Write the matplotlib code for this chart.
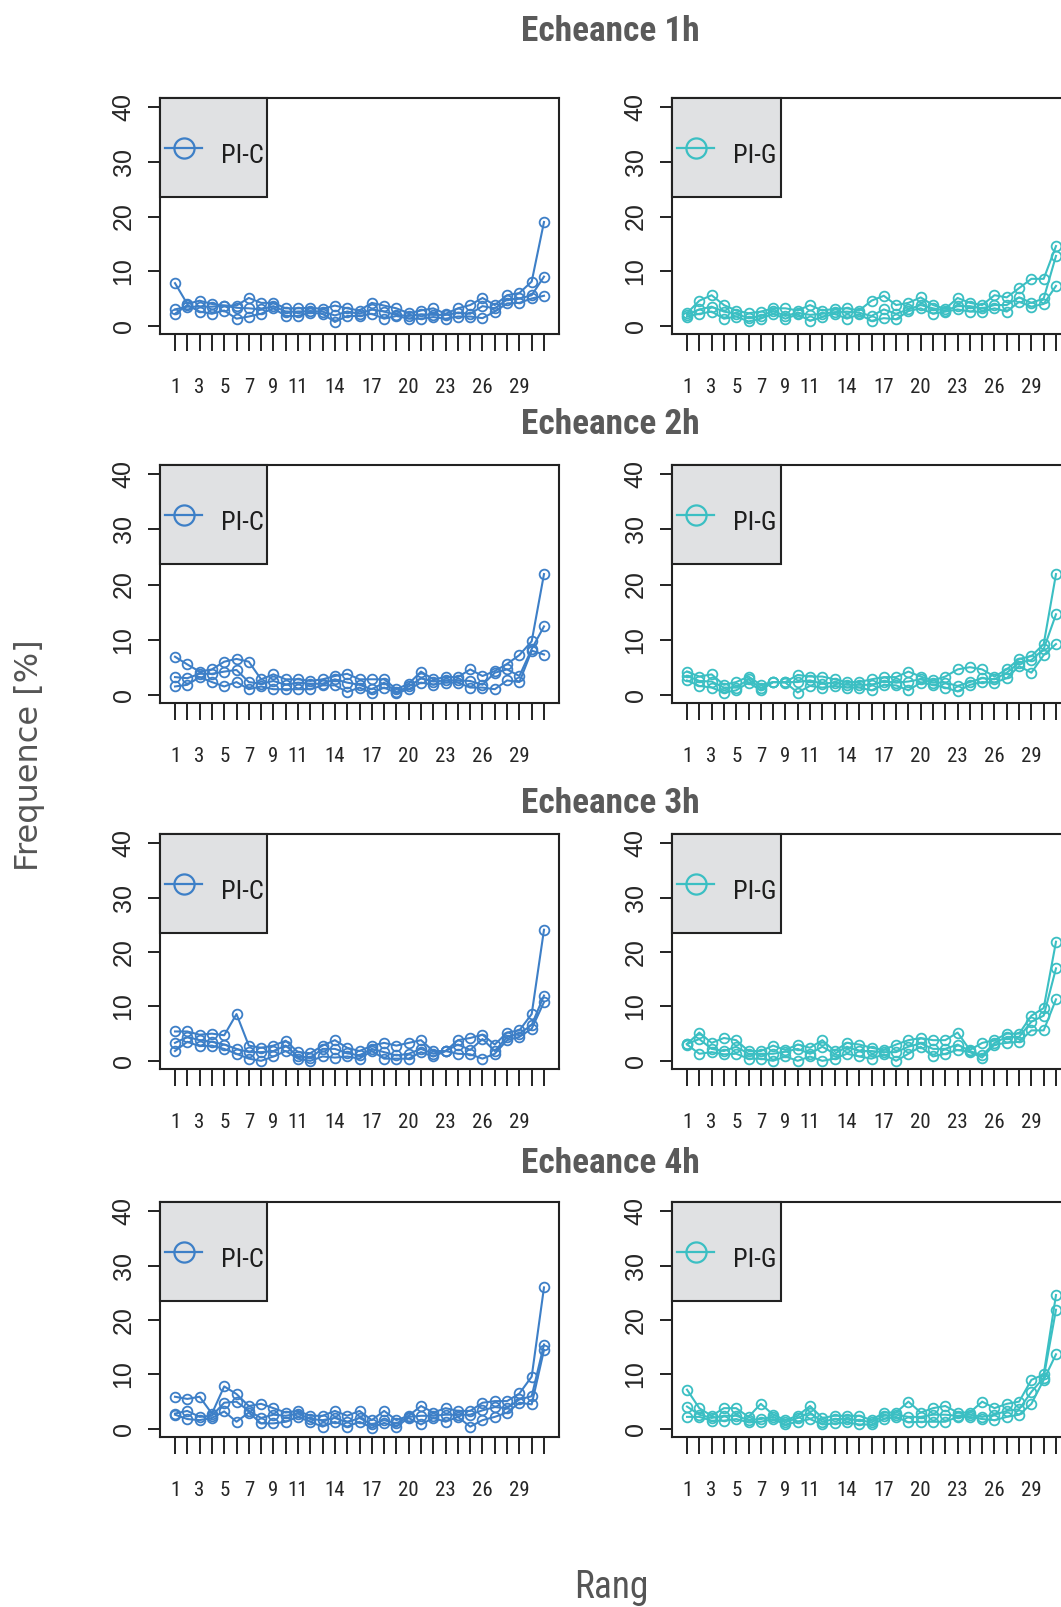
import numpy as np
import matplotlib
matplotlib.use("Agg")
import matplotlib.pyplot as plt
from matplotlib.patches import Rectangle
from matplotlib import font_manager

# ranks on the x axis
ranks = list(range(1, 32))
shown_labels = [1, 3, 5, 7, 9, 11, 14, 17, 20, 23, 26, 29]
y_ticks = [0, 10, 20, 30, 40]
titles = ["Echeance 1h", "Echeance 2h", "Echeance 3h", "Echeance 4h"]
legend_names = ["PI-C", "PI-G"]

# frequencies [%], three curves per panel
pic_1h = [
    [7.8, 4.0, 4.6, 4.0, 3.7, 3.7, 5.1, 4.2, 4.2, 3.2, 3.2, 3.3, 3.1, 3.7, 3.2, 2.8, 4.2, 3.7, 3.2, 2.3, 2.8, 3.2, 2.2, 3.2, 3.8, 5.1, 3.8, 5.6, 6.0, 8.1, 19.0],
    [3.0, 3.5, 3.5, 3.5, 3.7, 3.3, 3.2, 3.0, 3.6, 2.6, 2.6, 2.7, 2.6, 1.9, 2.6, 2.2, 3.0, 2.6, 2.0, 1.8, 2.1, 2.0, 2.0, 2.4, 2.2, 3.6, 3.2, 4.8, 5.0, 5.6, 9.0],
    [2.2, 3.8, 2.6, 2.2, 2.8, 1.3, 1.7, 2.2, 3.2, 1.8, 1.8, 2.4, 2.2, 0.7, 1.8, 1.8, 2.2, 1.3, 1.8, 1.3, 1.3, 1.6, 1.3, 1.7, 1.7, 1.4, 2.6, 4.1, 4.2, 5.0, 5.5],
]
pig_1h = [
    [2.3, 4.6, 5.6, 3.8, 2.8, 2.3, 2.6, 3.2, 3.2, 2.8, 3.8, 2.8, 3.1, 3.2, 2.8, 4.6, 5.5, 3.8, 4.2, 5.2, 3.8, 3.1, 5.1, 4.2, 3.8, 5.6, 5.2, 6.9, 8.6, 8.6, 14.6],
    [2.0, 3.0, 3.5, 2.6, 2.2, 1.4, 1.8, 2.7, 1.8, 2.4, 2.0, 2.2, 2.5, 2.6, 2.4, 1.8, 3.0, 2.2, 3.0, 3.8, 3.2, 2.8, 3.6, 3.6, 3.2, 3.8, 3.8, 5.2, 4.2, 5.0, 12.8],
    [1.7, 2.2, 2.6, 1.3, 1.7, 0.8, 1.3, 2.2, 1.3, 2.1, 0.9, 1.6, 2.2, 1.3, 2.1, 0.9, 1.4, 1.2, 2.7, 3.2, 2.2, 2.6, 3.0, 2.6, 2.6, 3.2, 2.6, 4.4, 3.5, 4.0, 7.3],
]
pic_2h = [
    [6.9, 5.5, 4.2, 4.6, 6.0, 6.5, 6.0, 2.8, 3.7, 2.8, 2.8, 2.5, 2.8, 3.4, 3.8, 2.8, 2.8, 2.8, 1.0, 2.0, 4.2, 2.8, 3.2, 3.2, 4.6, 3.4, 4.3, 5.6, 7.2, 9.7, 21.9],
    [3.2, 3.0, 3.8, 3.8, 4.2, 4.5, 2.3, 2.0, 2.5, 1.8, 2.2, 2.0, 2.0, 2.8, 2.2, 1.8, 1.0, 2.2, 0.5, 1.5, 3.0, 2.4, 2.6, 2.6, 2.5, 1.8, 4.0, 4.6, 3.4, 8.3, 12.4],
    [1.5, 1.8, 3.2, 2.3, 1.5, 2.3, 1.0, 1.5, 1.0, 1.0, 1.0, 1.0, 1.7, 1.7, 0.5, 1.3, 0.3, 1.3, 0.3, 1.0, 2.2, 1.8, 2.2, 2.2, 1.3, 1.3, 1.0, 2.6, 2.3, 8.0, 7.3],
]
pig_2h = [
    [4.2, 3.3, 3.7, 1.8, 2.3, 3.3, 1.8, 2.3, 2.3, 3.6, 3.3, 3.3, 2.8, 2.3, 2.3, 2.8, 3.2, 3.2, 4.2, 3.3, 2.6, 3.3, 4.6, 5.0, 4.6, 3.3, 4.6, 6.5, 7.0, 9.2, 21.9],
    [3.4, 2.5, 2.4, 1.3, 1.3, 2.8, 1.2, 2.3, 2.3, 2.3, 2.6, 2.0, 2.2, 1.8, 1.8, 1.8, 2.4, 2.2, 2.4, 2.8, 2.2, 2.2, 1.6, 2.3, 3.0, 2.8, 4.0, 5.8, 6.3, 8.3, 14.6],
    [2.6, 1.6, 1.3, 0.4, 0.8, 2.2, 0.8, 2.3, 2.2, 0.4, 1.6, 1.3, 1.6, 1.3, 1.3, 0.8, 1.8, 1.7, 0.8, 2.2, 1.8, 1.3, 0.6, 1.8, 2.3, 2.2, 3.0, 5.2, 4.0, 7.2, 9.2],
]
pic_3h = [
    [5.4, 5.4, 4.8, 5.0, 4.7, 8.6, 2.8, 2.4, 2.8, 3.7, 1.6, 1.4, 2.8, 3.8, 2.4, 1.8, 2.8, 3.3, 2.8, 3.3, 3.8, 1.8, 1.8, 3.8, 4.2, 4.8, 3.0, 5.2, 5.6, 8.6, 24.1],
    [3.3, 4.4, 3.8, 3.5, 3.0, 2.2, 1.6, 1.6, 1.8, 2.8, 0.8, 0.6, 2.2, 2.2, 1.4, 1.0, 2.2, 1.6, 1.0, 1.3, 2.2, 1.3, 1.8, 3.0, 2.0, 4.0, 1.8, 4.4, 5.0, 6.6, 12.0],
    [1.8, 3.5, 2.7, 2.8, 2.2, 1.3, 0.4, 0.0, 0.8, 1.8, 0.4, 0.0, 0.8, 0.6, 0.8, 0.4, 1.8, 0.4, 0.4, 0.4, 1.6, 0.8, 1.8, 1.3, 1.2, 0.4, 1.3, 3.8, 4.4, 5.9, 10.8],
]
pig_3h = [
    [3.1, 5.2, 3.3, 4.2, 3.8, 1.8, 1.8, 2.8, 2.0, 3.0, 2.4, 3.8, 1.8, 3.3, 3.0, 2.4, 2.0, 3.0, 3.8, 4.2, 3.8, 3.8, 5.2, 2.0, 3.3, 3.8, 5.0, 5.0, 8.3, 9.7, 21.9],
    [3.1, 4.0, 2.2, 1.8, 2.6, 1.3, 1.3, 1.3, 1.7, 2.2, 1.3, 2.6, 1.3, 2.6, 1.8, 1.8, 1.6, 1.6, 2.6, 3.2, 2.2, 2.2, 3.0, 1.8, 1.0, 3.3, 4.4, 4.4, 7.2, 8.3, 17.0],
    [3.0, 1.3, 1.6, 1.2, 1.3, 0.4, 0.4, 0.0, 0.8, 0.0, 0.8, 0.0, 0.4, 1.3, 0.8, 0.4, 1.2, 0.0, 1.3, 2.6, 0.8, 1.3, 2.0, 1.6, 0.6, 3.0, 3.3, 3.5, 5.6, 5.6, 11.3],
]
pic_4h = [
    [5.9, 5.5, 5.9, 2.8, 7.8, 6.4, 4.2, 4.6, 3.8, 3.0, 3.3, 2.4, 2.4, 3.3, 2.4, 3.3, 1.6, 3.3, 1.6, 2.4, 4.2, 3.0, 3.8, 3.3, 3.3, 4.8, 5.1, 5.1, 6.5, 9.6, 26.0],
    [2.8, 3.3, 2.2, 2.4, 4.8, 5.0, 3.3, 2.0, 2.6, 2.4, 2.8, 1.8, 1.6, 2.0, 1.2, 2.0, 0.8, 1.6, 1.0, 2.2, 2.4, 2.4, 2.6, 2.6, 2.6, 3.4, 4.0, 3.8, 5.4, 6.0, 15.5],
    [2.6, 1.8, 1.6, 2.0, 3.2, 1.3, 3.0, 1.0, 1.0, 1.3, 2.2, 1.3, 0.4, 1.3, 0.4, 1.3, 0.2, 1.1, 0.4, 2.0, 0.8, 2.0, 1.3, 2.2, 0.4, 1.6, 2.2, 3.0, 4.8, 4.5, 14.5],
]
pig_4h = [
    [7.2, 3.8, 2.4, 3.8, 3.8, 2.2, 4.6, 2.6, 1.6, 2.4, 4.2, 2.0, 2.4, 2.4, 2.4, 1.6, 3.0, 3.0, 5.0, 3.0, 3.8, 4.2, 3.0, 3.0, 5.0, 3.8, 4.6, 5.0, 9.0, 10.0, 24.6],
    [4.1, 2.6, 2.0, 2.4, 2.4, 1.6, 1.8, 2.2, 1.2, 2.0, 3.0, 1.3, 1.8, 1.8, 1.6, 1.2, 2.4, 2.6, 2.2, 2.2, 2.6, 2.6, 2.4, 2.6, 2.2, 2.6, 3.3, 3.6, 6.8, 9.4, 21.9],
    [2.2, 2.2, 1.5, 1.5, 1.8, 1.2, 1.3, 1.8, 0.8, 1.3, 1.8, 0.8, 1.0, 1.2, 0.8, 0.8, 1.8, 2.2, 1.2, 1.3, 1.3, 1.3, 2.2, 2.2, 1.8, 1.6, 2.2, 2.6, 4.6, 9.0, 13.7],
]

panels = [[pic_1h, pig_1h], [pic_2h, pig_2h], [pic_3h, pig_3h], [pic_4h, pig_4h]]
colors = ["#3d7fc7", "#3bbfc3"]

installed = {f.name for f in font_manager.fontManager.ttflist}
narrow = "Roboto Condensed" if "Roboto Condensed" in installed else "Liberation Sans"

W, H = 1061, 1607
fig = plt.figure(figsize=(W / 100, H / 100), dpi=100)

col_x = [(160, 559), (672, 1071)]
row_y = [(98, 334), (465, 703), (834, 1069), (1202, 1437)]
title_base = [41, 434, 813, 1173]
legend_w = [107, 109]

for r, (top, bottom) in enumerate(row_y):
    fig.text(610 / W, 1 - title_base[r] / H, titles[r], ha="center", va="baseline",
             fontsize=25.5, fontweight="bold", color="#5a5a5a", family=narrow)
    for c, (x0, x1) in enumerate(col_x):
        ax = fig.add_axes([x0 / W, 1 - bottom / H, (x1 - x0) / W, (bottom - top) / H])
        for series in panels[r][c]:
            ax.plot(ranks, series, color=colors[c], lw=1.5, marker="o", ms=7,
                    mfc="none", mec=colors[c], mew=1.3)
        ax.set_xlim(-0.22, 32.22)
        ax.set_ylim(-1.5, 41.7)
        ax.set_xticks(ranks)
        ax.set_xticklabels([str(k) if k in shown_labels else "" for k in ranks],
                           family=narrow, fontsize=15, color="#262626")
        ax.set_yticks(y_ticks)
        ax.set_yticklabels([str(v) for v in y_ticks], rotation=90, va="center",
                           family="Liberation Sans", fontsize=18, color="#262626")
        ax.tick_params(axis="x", length=12.5, width=1.4, pad=19.5, color="#222222")
        ax.tick_params(axis="y", length=8.6, width=1.4, pad=9, color="#222222")
        for s in ax.spines.values():
            s.set_linewidth(1.5)
            s.set_color("#222222")

        # legend box in the top-left corner
        aw, ah = x1 - x0, bottom - top
        ax.add_patch(Rectangle((0, 1 - 99 / ah), legend_w[c] / aw, 99 / ah,
                               transform=ax.transAxes, facecolor="#e0e1e3",
                               edgecolor="#222222", lw=1.5, zorder=3, clip_on=False))
        ly = 1 - 50 / ah
        ax.plot([5 / aw, 42 / aw], [ly, ly], transform=ax.transAxes, color=colors[c],
                lw=1.6, zorder=4, clip_on=False)
        ax.plot([24 / aw], [ly], transform=ax.transAxes, marker="o", ms=14.5,
                mfc="none", mec=colors[c], mew=1.6, zorder=4, clip_on=False)
        ax.text(61 / aw, 1 - 65 / ah, legend_names[c], transform=ax.transAxes,
                ha="left", va="baseline", fontsize=19, family=narrow,
                color="#1e1e1e", zorder=5)

fig.text(30 / W, 1 - 755 / H, "Frequence [%]", rotation=90, ha="center", va="center",
         fontsize=23, family="DejaVu Sans", color="#555555")
fig.text(611 / W, 1 - 1598 / H, "Rang", ha="center", va="baseline",
         fontsize=27, family=narrow, color="#555555")

fig.savefig("out.png", dpi=100)
